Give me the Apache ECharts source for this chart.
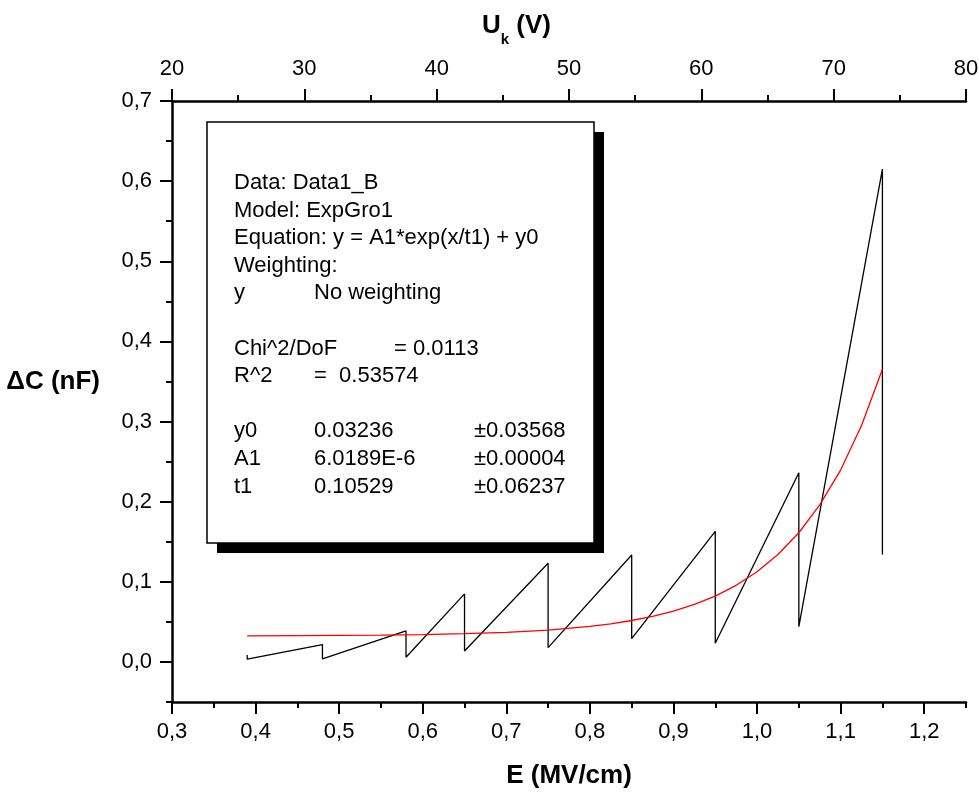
<!DOCTYPE html>
<html>
<head>
<meta charset="utf-8">
<script src="https://cdn.jsdelivr.net/npm/echarts@6/dist/echarts.min.js"></script>
<style>
html,body{margin:0;padding:0;background:#fff;}
#chart{width:979px;height:796px;}
</style>
</head>
<body>
<div id="chart"></div>
<script>
// ---- measured data (ΔC vs E) ----
const E_DATA  = [0.39, 0.39, 0.48, 0.48, 0.58, 0.58, 0.65, 0.65, 0.75, 0.75, 0.85, 0.85, 0.95, 0.95, 1.05, 1.05, 1.15, 1.15];
const DC_DATA = [0.0087, 0.0034, 0.0216, 0.0037, 0.0387, 0.0059, 0.0849, 0.0137, 0.1232, 0.0178, 0.1335, 0.0290, 0.1630, 0.0233, 0.2360, 0.0440, 0.6150, 0.1340];

// ---- fitted curve ----
const FIT_E  = [0.39, 0.45, 0.50, 0.55, 0.60, 0.65, 0.70, 0.75, 0.80, 0.825, 0.85, 0.875, 0.90, 0.925, 0.95, 0.975, 1.00, 1.025, 1.05, 1.075, 1.10, 1.125, 1.15];
const FIT_DC = [0.0326, 0.0328, 0.0331, 0.0335, 0.0342, 0.0353, 0.0370, 0.0398, 0.0444, 0.0476, 0.0517, 0.0568, 0.0634, 0.0717, 0.0822, 0.0956, 0.1125, 0.1340, 0.1612, 0.1959, 0.2394, 0.2951, 0.3652];

// ---- ticks ----
const X_MAJOR = [0.3, 0.4, 0.5, 0.6, 0.7, 0.8, 0.9, 1.0, 1.1, 1.2];
const X_MINOR = [0.35, 0.45, 0.55, 0.65, 0.75, 0.85, 0.95, 1.05, 1.15, 1.25];
const Y_MAJOR = [0.0, 0.1, 0.2, 0.3, 0.4, 0.5, 0.6, 0.7];
const Y_MINOR = [-0.05, 0.05, 0.15, 0.25, 0.35, 0.45, 0.55, 0.65];
const TOP_MAJOR = [20, 30, 40, 50, 60, 70, 80];
const TOP_MINOR = [25, 35, 45, 55, 65, 75];

// ---- fit report text ----
const BOX_COL1 = ['Data: Data1_B', 'Model: ExpGro1', 'Equation: y = A1*exp(x/t1) + y0', 'Weighting:', 'y', 'Chi^2/DoF', 'R^2', 'y0', 'A1', 't1'];
const BOX_COL2 = ['', '', '', '', 'No weighting', '', '=  0.53574', '0.03236', '6.0189E-6', '0.10529'];
const BOX_COL3 = ['', '', '', '', '', '= 0.0113', '', '±0.03568', '±0.00004', '±0.06237'];
const BOX_ROWS = [0, 1, 2, 3, 4, 6, 7, 9, 10, 11];

const FONT = '"Liberation Sans", Arial, sans-serif';
const chart = echarts.init(document.getElementById('chart'), null, {renderer: 'canvas'});

const comma1 = v => v.toFixed(1).replace('.', ',');
const axisLineStyle = {color: '#000', width: 2.5};

const mainPts = E_DATA.map((e, i) => [e, DC_DATA[i]]);
const fitPts = FIT_E.map((e, i) => [e, FIT_DC[i]]);

const graphics = [];
// shadow + box
graphics.push({type: 'rect', z: 100, shape: {x: 217, y: 132, width: 387, height: 421}, style: {fill: '#000'}});
graphics.push({type: 'rect', z: 101, shape: {x: 207, y: 122, width: 387, height: 421}, style: {fill: '#fff', stroke: '#000', lineWidth: 1.5}});
const baseY = 189, lineH = 27.6;
BOX_ROWS.forEach((r, i) => {
  const y = baseY + r * lineH - 6;
  const cols = [[234, BOX_COL1[i]], [314, BOX_COL2[i]], [394, BOX_COL3[i]]];
  if (BOX_COL3[i] && BOX_COL3[i].startsWith('±')) cols[2][0] = 474;
  cols.forEach(([x, t]) => {
    if (!t) return;
    graphics.push({type: 'text', z: 102, x: x, y: y, style: {text: t, font: '22px ' + FONT, fill: '#000', verticalAlign: 'middle', align: 'left'}});
  });
});
// axis titles
graphics.push({type: 'text', z: 102, x: 100, y: 382, style: {text: 'ΔC (nF)', font: 'bold 26px ' + FONT, fill: '#000', align: 'right', verticalAlign: 'middle'}});
graphics.push({type: 'text', z: 102, x: 482, y: 13, style: {
  text: '{a|U}{b|k}{a| (V)}', align: 'left', verticalAlign: 'top',
  rich: {
    a: {font: 'bold 26px ' + FONT, fill: '#000', lineHeight: 34, verticalAlign: 'top'},
    b: {font: 'bold 15px ' + FONT, fill: '#000', lineHeight: 15, verticalAlign: 'bottom'}
  }
}});

const option = {
  animation: false,
  backgroundColor: '#fff',
  grid: {left: 172, top: 101, right: 13, bottom: 94, containLabel: false, outerBoundsMode: 'none'},
  xAxis: [
    {
      type: 'value', position: 'bottom', min: 0.3, max: 1.25,
      name: 'E (MV/cm)', nameLocation: 'middle', nameGap: 61,
      nameTextStyle: {fontFamily: FONT, fontWeight: 'bold', fontSize: 26, color: '#000'},
      axisLine: {show: true, onZero: false, lineStyle: axisLineStyle},
      axisTick: {show: true, inside: false, length: 12, lineStyle: {color: '#000', width: 2}, customValues: X_MAJOR},
      axisLabel: {show: true, margin: 19, fontFamily: FONT, fontSize: 22, color: '#000', customValues: X_MAJOR, formatter: comma1},
      splitLine: {show: false}
    },
    {
      type: 'value', position: 'bottom', min: 0.3, max: 1.25,
      axisLine: {show: false, onZero: false},
      axisTick: {show: true, inside: false, length: 6, lineStyle: {color: '#000', width: 2}, customValues: X_MINOR},
      axisLabel: {show: false},
      splitLine: {show: false}
    },
    {
      type: 'value', position: 'top', min: 20, max: 80,
      axisLine: {show: true, onZero: false, lineStyle: axisLineStyle},
      axisTick: {show: true, inside: false, length: 12, lineStyle: {color: '#000', width: 2}, customValues: TOP_MAJOR},
      axisLabel: {show: true, margin: 21, fontFamily: FONT, fontSize: 22, color: '#000', customValues: TOP_MAJOR},
      splitLine: {show: false}
    },
    {
      type: 'value', position: 'top', min: 20, max: 80,
      axisLine: {show: false, onZero: false},
      axisTick: {show: true, inside: false, length: 6, lineStyle: {color: '#000', width: 2}, customValues: TOP_MINOR},
      axisLabel: {show: false},
      splitLine: {show: false}
    }
  ],
  yAxis: [
    {
      type: 'value', position: 'left', min: -0.05, max: 0.7,
      axisLine: {show: true, onZero: false, lineStyle: axisLineStyle},
      axisTick: {show: true, inside: false, length: 12, lineStyle: {color: '#000', width: 2}, customValues: Y_MAJOR},
      axisLabel: {show: true, margin: 20, fontFamily: FONT, fontSize: 22, color: '#000', customValues: Y_MAJOR, formatter: comma1},
      splitLine: {show: false}
    },
    {
      type: 'value', position: 'left', min: -0.05, max: 0.7,
      axisLine: {show: false, onZero: false},
      axisTick: {show: true, inside: false, length: 6, lineStyle: {color: '#000', width: 2}, customValues: Y_MINOR},
      axisLabel: {show: false},
      splitLine: {show: false}
    }
  ],
  series: [
    {
      name: 'Data1_B', type: 'line', xAxisIndex: 0, yAxisIndex: 0,
      data: mainPts, showSymbol: false, symbol: 'none',
      lineStyle: {color: '#000', width: 1.3}, z: 3
    },
    {
      name: 'ExpGro1 fit', type: 'line', xAxisIndex: 0, yAxisIndex: 0,
      data: fitPts, showSymbol: false, symbol: 'none', smooth: false,
      lineStyle: {color: '#ff0000', width: 1.3}, z: 4
    }
  ],
  graphic: graphics
};
chart.setOption(option);
</script>
</body>
</html>
